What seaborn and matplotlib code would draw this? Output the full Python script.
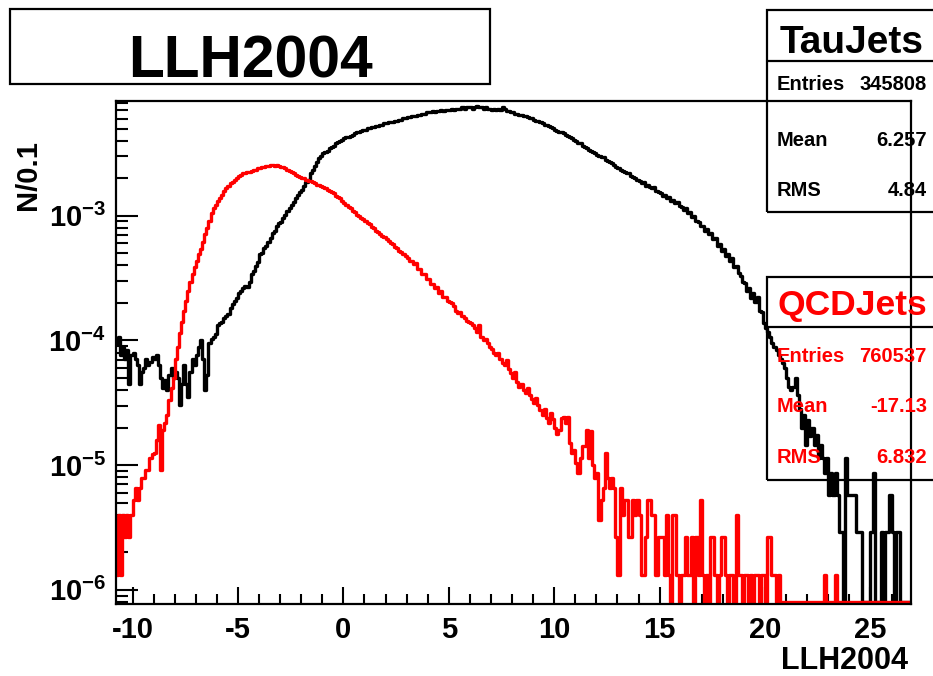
import numpy as np
import pandas as pd
import matplotlib
matplotlib.use("Agg")
import matplotlib.pyplot as plt
import seaborn as sns
from matplotlib.ticker import MultipleLocator, LogLocator, FuncFormatter, NullFormatter
from matplotlib.patches import Rectangle
from matplotlib.lines import Line2D

sns.set_style("ticks")
plt.rcParams["font.family"] = ["Liberation Sans", "DejaVu Sans"]
plt.rcParams["font.weight"] = "bold"
plt.rcParams["mathtext.fontset"] = "custom"
plt.rcParams["mathtext.rm"] = "Liberation Sans:bold"
plt.rcParams["mathtext.bf"] = "Liberation Sans:bold"
plt.rcParams["mathtext.it"] = "Liberation Sans:bold"
plt.rcParams["mathtext.default"] = "bf"
for key in ["text.color", "axes.labelcolor", "xtick.color", "ytick.color",
            "xtick.labelcolor", "ytick.labelcolor", "axes.edgecolor"]:
    plt.rcParams[key] = "black"

# ---------------- data ----------------
title_text = "LLH2004"
x_label = "LLH2004"
y_label = "N/0.1"
bin_start = -10.8          # first bin edge
bin_width = 0.1            # "N/0.1"
x_ticks = [-10, -5, 0, 5, 10, 15, 20, 25]

tau_name = "TauJets"
tau_stats = [("Entries", "345808"), ("Mean", "6.257"), ("RMS", "4.84")]
qcd_name = "QCDJets"
qcd_stats = [("Entries", "760537"), ("Mean", "-17.13"), ("RMS", "6.832")]

# log10 of the normalised bin content, one value per 0.1 bin (None = empty bin)
tau_log10 = [
    -4.02, -3.97, -4.12, -4.05, -4.15, -4.08, -4.35, -4.12,                      # -10.8 .. -10.1
    -4.10, -4.15, -4.20, -4.35, -4.25, -4.22, -4.15, -4.20, -4.17, -4.13,        # -10
    -4.15, -4.12, -4.20, -4.30, -4.38, -4.32, -4.40, -4.28, -4.22, -4.30,        # -9
    -4.25, -4.30, -4.52, -4.35, -4.20, -4.35, -4.45, -4.25, -4.15, -4.20,        # -8
    -4.12, -4.05, -4.00, -4.15, -4.40, -4.28, -4.02, -3.99, -3.97, -3.95,        # -7
    -3.88, -3.86, -3.85, -3.82, -3.80, -3.79, -3.74, -3.71, -3.68, -3.66,        # -6
    -3.62, -3.60, -3.58, -3.56, -3.57, -3.53, -3.47, -3.44, -3.40, -3.37,        # -5
    -3.31, -3.30, -3.26, -3.24, -3.21, -3.18, -3.14, -3.12, -3.08, -3.06,        # -4
    -3.05, -3.02, -2.99, -2.96, -2.94, -2.91, -2.89, -2.86, -2.83, -2.81,        # -3
    -2.79, -2.76, -2.73, -2.71, -2.66, -2.63, -2.60, -2.57, -2.54, -2.52,        # -2
    -2.50, -2.49, -2.48, -2.46, -2.45, -2.44, -2.42, -2.41, -2.40, -2.39,        # -1
    -2.38, -2.37, -2.37, -2.36, -2.35, -2.34, -2.33, -2.33, -2.32, -2.31,        # 0
    -2.31, -2.30, -2.30, -2.29, -2.29, -2.28, -2.28, -2.27, -2.27, -2.26,        # 1
    -2.26, -2.25, -2.25, -2.25, -2.24, -2.24, -2.23, -2.23, -2.22, -2.22,        # 2
    -2.21, -2.21, -2.20, -2.20, -2.20, -2.19, -2.19, -2.18, -2.18, -2.17,        # 3
    -2.17, -2.17, -2.16, -2.17, -2.16, -2.16, -2.15, -2.16, -2.15, -2.15,        # 4
    -2.15, -2.14, -2.15, -2.14, -2.14, -2.14, -2.13, -2.14, -2.13, -2.13,        # 5
    -2.13, -2.14, -2.13, -2.12, -2.13, -2.13, -2.14, -2.13, -2.14, -2.14,        # 6
    -2.15, -2.14, -2.15, -2.14, -2.15, -2.13, -2.14, -2.16, -2.16, -2.17,        # 7
    -2.17, -2.18, -2.18, -2.19, -2.19, -2.20, -2.20, -2.21, -2.22, -2.22,        # 8
    -2.23, -2.24, -2.24, -2.25, -2.26, -2.27, -2.27, -2.28, -2.29, -2.30,        # 9
    -2.31, -2.32, -2.33, -2.33, -2.34, -2.35, -2.36, -2.37, -2.38, -2.39,        # 10
    -2.40, -2.42, -2.42, -2.44, -2.45, -2.46, -2.47, -2.48, -2.49, -2.50,        # 11
    -2.51, -2.52, -2.53, -2.53, -2.55, -2.56, -2.57, -2.58, -2.59, -2.61,        # 12
    -2.62, -2.63, -2.64, -2.65, -2.66, -2.66, -2.68, -2.69, -2.70, -2.71,        # 13
    -2.72, -2.74, -2.73, -2.76, -2.75, -2.77, -2.78, -2.77, -2.80, -2.81,        # 14
    -2.82, -2.84, -2.83, -2.86, -2.85, -2.88, -2.87, -2.90, -2.89, -2.92,        # 15
    -2.93, -2.95, -2.94, -2.98, -2.97, -3.01, -3.00, -3.04, -3.05, -3.08,        # 16
    -3.08, -3.12, -3.11, -3.15, -3.14, -3.19, -3.18, -3.24, -3.23, -3.28,        # 17
    -3.27, -3.32, -3.31, -3.36, -3.34, -3.41, -3.40, -3.46, -3.48, -3.53,        # 18
    -3.54, -3.60, -3.58, -3.66, -3.62, -3.69, -3.65, -3.76, -3.77, -3.86,        # 19
    -3.90, -3.93, -3.97, -4.02, -4.05, -4.08, -4.12, -4.15, -4.18, -4.22,        # 20
    -4.30, -4.37, -4.40, -4.37, -4.30, -4.44, -4.55, -4.70, -4.60, -4.84,        # 21
    -4.64, -4.77, -4.70, -4.84, -4.76, -4.94, -4.84, -4.94, -5.06, -4.94,        # 22
    -5.24, -5.06, -5.24, -5.06, -5.24, -5.54, -5.54, None, -4.94, -5.24,         # 23
    -5.24, -5.24, -5.24, -5.54, -5.54, -5.54, None, None, None, None,            # 24
    -5.54, -5.06, None, None, None, -5.54, None, -5.54, -5.54, -5.24,            # 25
    -5.54, None, -5.54, -5.54, None, None, None, None, None,                     # 26.0 .. 26.8
]

qcd_log10 = [
    -5.88, -5.40, -5.88, -5.40, -5.58, -5.40, -5.58, -5.40,                      # -10.8 .. -10.1
    -5.28, -5.18, -5.28, -5.18, -5.10, -5.10, -5.04, -5.04, -4.94, -4.91,        # -10
    -4.90, -4.80, -4.68, -5.04, -4.72, -4.66, -4.60, -4.48, -4.38, -4.30,        # -9
    -4.15, -4.05, -3.94, -3.85, -3.76, -3.68, -3.60, -3.53, -3.47, -3.41,        # -8
    -3.36, -3.31, -3.27, -3.21, -3.15, -3.10, -3.04, -2.98, -2.94, -2.91,        # -7
    -2.88, -2.86, -2.83, -2.80, -2.78, -2.76, -2.74, -2.73, -2.71, -2.70,        # -6
    -2.68, -2.67, -2.66, -2.66, -2.65, -2.65, -2.64, -2.63, -2.63, -2.62,        # -5
    -2.62, -2.61, -2.61, -2.60, -2.60, -2.59, -2.59, -2.60, -2.59, -2.60,        # -4
    -2.61, -2.61, -2.62, -2.63, -2.64, -2.65, -2.66, -2.67, -2.68, -2.69,        # -3
    -2.70, -2.70, -2.71, -2.72, -2.72, -2.73, -2.74, -2.75, -2.75, -2.76,        # -2
    -2.77, -2.78, -2.79, -2.80, -2.81, -2.82, -2.84, -2.85, -2.86, -2.88,        # -1
    -2.90, -2.91, -2.93, -2.94, -2.96, -2.97, -2.99, -3.00, -3.02, -3.03,        # 0
    -3.04, -3.06, -3.07, -3.09, -3.10, -3.12, -3.13, -3.15, -3.16, -3.17,        # 1
    -3.19, -3.20, -3.22, -3.23, -3.25, -3.26, -3.28, -3.29, -3.31, -3.32,        # 2
    -3.34, -3.36, -3.36, -3.39, -3.38, -3.43, -3.43, -3.47, -3.47, -3.51,        # 3
    -3.51, -3.55, -3.55, -3.58, -3.57, -3.62, -3.60, -3.65, -3.65, -3.68,        # 4
    -3.69, -3.70, -3.72, -3.76, -3.78, -3.77, -3.80, -3.82, -3.84, -3.85,        # 5
    -3.86, -3.88, -3.90, -3.93, -3.88, -3.97, -4.00, -3.99, -4.02, -4.05,        # 6
    -4.07, -4.10, -4.12, -4.10, -4.15, -4.18, -4.20, -4.16, -4.23, -4.26,        # 7
    -4.30, -4.25, -4.33, -4.37, -4.35, -4.40, -4.42, -4.38, -4.44, -4.47,        # 8
    -4.50, -4.46, -4.52, -4.56, -4.60, -4.55, -4.62, -4.66, -4.58, -4.63,        # 9
    -4.70, -4.75, -4.72, -4.62, -4.61, -4.66, -4.61, -4.82, -4.90, -4.88,        # 10
    -4.98, -5.06, -4.94, -4.85, -4.85, -4.72, -4.94, -4.73, -5.00, -5.10,        # 11
    -5.06, -5.44, -5.28, -5.18, -4.90, -5.10, -5.18, -5.10, -5.18, -5.58,        # 12
    -5.88, -5.18, -5.40, -5.28, -5.28, -5.58, -5.58, -5.28, -5.40, -5.28,        # 13
    -5.40, -5.88, -5.88, -5.58, -5.28, -5.28, -5.40, -5.40, -5.88, -5.58,        # 14
    -5.58, -5.58, -5.88, -5.40, -5.88, None, -5.40, -5.40, -5.88, None,          # 15
    -5.88, -5.88, -5.58, -5.88, -5.88, -5.58, None, -5.58, -5.88, -5.28,         # 16
    -5.88, None, -5.88, None, -5.58, -5.58, -5.88, None, -5.88, -5.58,           # 17
    -5.58, -5.88, None, -5.88, -5.88, None, -5.40, -5.88, -5.88, None,           # 18
    -5.88, -5.88, None, -5.88, None, -5.88, -5.88, None, -5.88, -5.88,           # 19
    None, -5.58, -5.58, -5.88, -5.88, None, -5.88, None, None, None,             # 20
    None, None, None, None, None, None, None, None, None, None,                  # 21
    None, None, None, None, None, None, None, None, -5.88, None,                 # 22
    None, None, None, -5.88, None, None, None, None, None, None,                 # 23
    None, None, None, None, None, None, None, None, None, None,                  # 24
    None, None, None, None, None, None, None, None, None, None,                  # 25
    None, None, None, None, None, None, None, None, None,                        # 26.0 .. 26.8
]

assert len(tau_log10) == len(qcd_log10)

# ---------------- build table ----------------
y_min, y_max = 7.7e-7, 8.4e-3
empty_level = y_min * 1.04           # ROOT draws empty bins on the frame bottom

n_bins = len(tau_log10)
edges = bin_start + bin_width * np.arange(n_bins + 1)


def step_table(logs, name):
    vals = np.array([10.0 ** v if v is not None else empty_level for v in logs])
    # one point per left bin edge, plus the closing right edge (steps-post)
    return pd.DataFrame({"llh": edges, "content": np.append(vals, vals[-1]),
                         "sample": name})


df = pd.concat([step_table(tau_log10, tau_name), step_table(qcd_log10, qcd_name)],
               ignore_index=True)

# ---------------- figure ----------------
W, H = 933, 676
fig = plt.figure(figsize=(W / 100, H / 100), dpi=100)
fig.patch.set_facecolor("white")


def fx(px):
    return px / W


def fy(py):
    return 1 - py / H


ax_l, ax_r, ax_t, ax_b = 115.7, 910.5, 100.5, 604.0
ax = fig.add_axes([fx(ax_l), fy(ax_b), fx(ax_r - ax_l), (ax_b - ax_t) / H])
ax.set_facecolor("white")

sns.lineplot(data=df, x="llh", y="content", hue="sample",
             hue_order=[tau_name, qcd_name],
             palette={tau_name: "#000000", qcd_name: "#ff0000"},
             estimator=None, sort=False, drawstyle="steps-post",
             linewidth=2.4, legend=False, ax=ax)

ax.set_yscale("log")
ax.set_xlim(edges[0], edges[-1])
ax.set_ylim(y_min, y_max)

for s in ax.spines.values():
    s.set_linewidth(1.6)
    s.set_color("black")

ax.set_xticks(x_ticks)
ax.set_xticklabels([str(t) for t in x_ticks])
ax.xaxis.set_minor_locator(MultipleLocator(1))
ax.yaxis.set_major_locator(LogLocator(base=10, numticks=20))
ax.yaxis.set_minor_locator(LogLocator(base=10, subs=np.arange(2, 10), numticks=40))
ax.yaxis.set_minor_formatter(NullFormatter())
ax.yaxis.set_major_formatter(FuncFormatter(
    lambda v, p: r"$\mathbf{10^{%d}}$" % int(round(np.log10(v)))))

ax.tick_params(axis="x", which="major", direction="in", length=12, width=1.5,
               labelsize=21, pad=9, top=False, colors="black")
ax.tick_params(axis="x", which="minor", direction="in", length=7, width=1.5, top=False,
               colors="black")
ax.tick_params(axis="y", which="major", direction="in", length=16, width=1.5,
               labelsize=21, pad=7, right=False, colors="black")
ax.tick_params(axis="y", which="minor", direction="in", length=8.5, width=1.5, right=False,
               colors="black")
for lab in ax.get_xticklabels() + ax.get_yticklabels():
    lab.set_fontweight("bold")

ax.set_xlabel(x_label, fontsize=22, fontweight="bold", color="black")
ax.xaxis.set_label_coords((908 - ax_l) / (ax_r - ax_l), -(661 - ax_b) / (ax_b - ax_t))
ax.xaxis.label.set_ha("right")
ax.xaxis.label.set_va("center")
ax.set_ylabel(y_label, fontsize=21, fontweight="bold", color="black")
ax.yaxis.set_label_coords(-(ax_l - 28) / (ax_r - ax_l), (ax_b - 175) / (ax_b - ax_t))
ax.yaxis.label.set_va("center")
ax.yaxis.label.set_ha("center")


def box(x0, y0, x1, y1):
    r = Rectangle((fx(x0), fy(y1)), fx(x1 - x0), (y1 - y0) / H, fill=False,
                  edgecolor="black", linewidth=1.6, transform=fig.transFigure,
                  figure=fig, zorder=5)
    fig.patches.append(r)


def hline(x0, x1, y):
    fig.lines.append(Line2D([fx(x0), fx(x1)], [fy(y), fy(y)], color="black",
                            linewidth=1.6, transform=fig.transFigure, figure=fig, zorder=5))


# title box
box(10, 9.5, 490, 84)
fig.text(fx(250.5), fy(78), title_text, fontsize=42.3, fontweight="bold",
         ha="center", va="baseline", color="black")


# stats boxes
def stats_box(top, sep, bottom, name, rows, color, title_size, title_base, row_bases):
    box(767, top, 940, bottom)
    hline(767, 940, sep)
    fig.text(fx(852), fy(title_base), name, fontsize=title_size, fontweight="bold",
             color=color, ha="center", va="baseline", zorder=6)
    for (k, v), yb in zip(rows, row_bases):
        fig.text(fx(777), fy(yb), k, fontsize=14.5, fontweight="bold", color=color,
                 ha="left", va="baseline", zorder=6)
        fig.text(fx(927), fy(yb), v, fontsize=14.5, fontweight="bold", color=color,
                 ha="right", va="baseline", zorder=6)


stats_box(10, 61, 212, tau_name, tau_stats, "black", 28, 53, [90, 145.5, 196])
stats_box(277, 327, 480, qcd_name, qcd_stats, "#ff0000", 25.5, 315, [362, 412, 463])

fig.savefig("out.png", dpi=100, facecolor="white")
